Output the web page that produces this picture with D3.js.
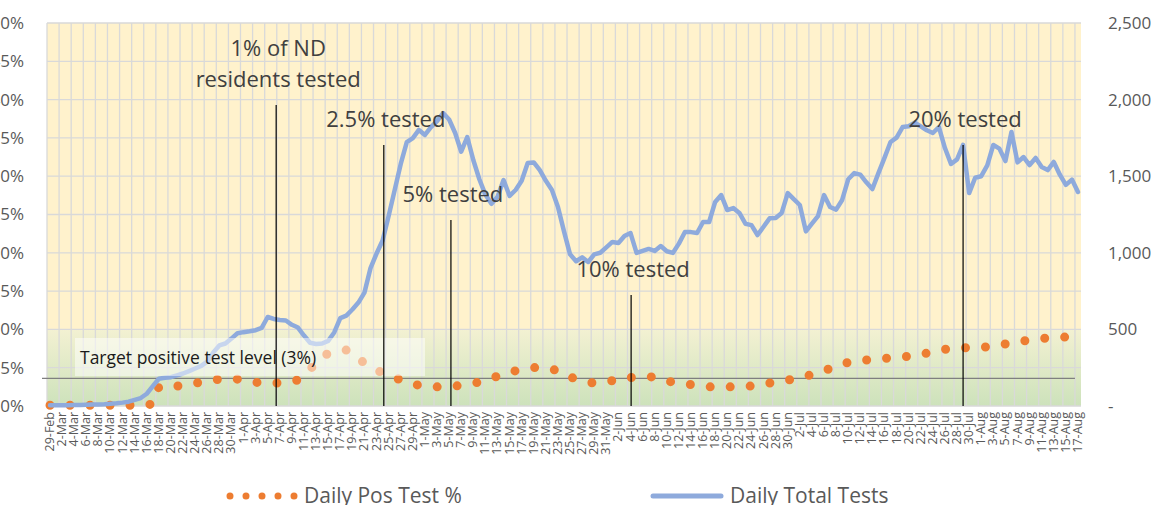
<!DOCTYPE html>
<html>
<head>
<meta charset="utf-8">
<script src="https://cdn.jsdelivr.net/npm/d3@7"></script>
<style>
	body { margin: 0; background: #fff; overflow: hidden; }
	svg { display: block; font-family: "Open Sans", "Noto Sans", sans-serif; }
</style>
</head>
<body>
<svg id="svgchart"></svg>
<script>
'use strict'

const chartWidth  = 1156,
      chartHeight = 505

const margin = {top: 23, right: 75, bottom: 99, left: 47}
const plotW = chartWidth - margin.left - margin.right,
      plotH = chartHeight - margin.top - margin.bottom

// one category per day, 29-Feb to 17-Aug 2020
const days = d3.timeDay.range(new Date(2020, 1, 29), new Date(2020, 7, 18))
const dayLabels = days.map(d3.timeFormat("%-d-%b"))

// daily positive test % (left axis)
const posRate = [
	0.1, 0.1, 0.1, 0.1, 0.1, 0.1, 0.1, 0.1, 0.1, 0.1,
	0.1, 0.1, 0.1, 0.1, 0.1, 0.1, 0.1, 0.3, 2.5, 2.5,
	2.6, 2.6, 2.7, 2.9, 3.0, 3.1, 3.3, 3.4, 3.5, 3.5,
	3.5, 3.5, 3.4, 3.2, 3.1, 3.0, 3.0, 3.0, 3.0, 3.1,
	3.2, 3.4, 4.0, 4.8, 5.6, 6.3, 6.9, 7.1, 7.2, 7.3,
	6.8, 6.2, 5.6, 5.1, 4.7, 4.3, 4.0, 3.7, 3.4, 3.1,
	2.9, 2.7, 2.6, 2.5, 2.5, 2.5, 2.6, 2.6, 2.7, 2.8,
	3.0, 3.1, 3.4, 3.6, 3.9, 4.1, 4.4, 4.6, 4.8, 4.9,
	5.0, 5.1, 5.0, 4.8, 4.6, 4.2, 3.8, 3.5, 3.3, 3.1,
	3.0, 3.1, 3.2, 3.3, 3.3, 3.5, 3.7, 3.8, 3.8, 3.8,
	3.8, 3.6, 3.3, 3.1, 3.0, 2.9, 2.8, 2.7, 2.6, 2.5,
	2.5, 2.5, 2.5, 2.5, 2.5, 2.6, 2.6, 2.7, 2.8, 3.0,
	3.1, 3.2, 3.4, 3.5, 3.7, 3.9, 4.1, 4.3, 4.6, 4.9,
	5.1, 5.4, 5.7, 5.9, 6.0, 6.0, 6.0, 6.1, 6.2, 6.3,
	6.3, 6.4, 6.5, 6.5, 6.7, 6.9, 7.0, 7.2, 7.4, 7.5,
	7.6, 7.6, 7.6, 7.6, 7.7, 7.7, 7.8, 7.9, 8.1, 8.2,
	8.4, 8.5, 8.6, 8.7, 8.8, 8.9, 9.0, 9.0, 9.0, 9.0,
	9.0
]

// daily total tests (right axis)
const totalTests = [
	5, 5, 5, 5, 6, 6, 8, 9, 10, 12,
	15, 18, 22, 28, 40, 52, 80, 130, 178, 184,
	188, 200, 212, 228, 245, 262, 290, 350, 395, 408,
	440, 475, 482, 488, 495, 510, 581, 568, 561, 558,
	530, 512, 460, 413, 405, 408, 425, 480, 574, 590,
	630, 675, 740, 900, 995, 1080, 1240, 1410, 1580, 1723,
	1749, 1802, 1769, 1820, 1860, 1912, 1870, 1782, 1660, 1756,
	1606, 1480, 1380, 1320, 1364, 1475, 1371, 1410, 1470, 1586,
	1590, 1540, 1470, 1410, 1299, 1140, 990, 945, 970, 940,
	990, 1000, 1035, 1071, 1064, 1110, 1129, 999, 1012, 1025,
	1012, 1044, 1010, 999, 1060, 1136, 1135, 1129, 1201, 1201,
	1332, 1377, 1279, 1292, 1260, 1190, 1181, 1116, 1170, 1225,
	1227, 1260, 1390, 1350, 1312, 1140, 1190, 1240, 1377, 1299,
	1282, 1345, 1480, 1520, 1510, 1460, 1416, 1520, 1620, 1723,
	1752, 1821, 1826, 1850, 1825, 1800, 1782, 1821, 1684, 1580,
	1610, 1704, 1390, 1490, 1500, 1570, 1704, 1680, 1599, 1789,
	1590, 1625, 1573, 1619, 1560, 1540, 1593, 1510, 1443, 1478,
	1397
]

const leftTicks  = [0, 5, 10, 15, 20, 25, 30, 35, 40, 45, 50]
const rightTicks = [0, 500, 1000, 1500, 2000, 2500]

// target level label; the drawn line sits a bit above 3% in the source
const targetLabel = "Target positive test level (3%)"
const targetLine  = 3.6

// vertical markers: day position, top of marker (in tests), label lines
const markerDays   = [37.9, 55.7, 66.8, 96.6, 151.5]
const markerTops   = [1965, 1704, 1214, 724, 1704]
const markerLabels = [["1% of ND", "residents tested"], ["2.5% tested"], ["5% tested"], ["10% tested"], ["20% tested"]]

const svg = d3.select("#svgchart")
	.attr("width", chartWidth)
	.attr("height", chartHeight)

const x = d3.scaleBand().domain(dayLabels).range([margin.left, margin.left + plotW])
const xDay = d3.scaleLinear().domain([0, days.length]).range([margin.left, margin.left + plotW])
const yLeft = d3.scaleLinear().domain([0, 50]).range([margin.top + plotH, margin.top])
const yRight = d3.scaleLinear().domain([0, 2500]).range([margin.top + plotH, margin.top])
const xc = i => x(dayLabels[i]) + x.bandwidth() / 2

// backgrounds
const defs = svg.append("defs")
const grad = defs.append("linearGradient").attr("id", "greenFade")
	.attr("x1", 0).attr("y1", 0).attr("x2", 0).attr("y2", 1)
grad.append("stop").attr("offset", "0%").attr("stop-color", "#f3f1d2")
grad.append("stop").attr("offset", "100%").attr("stop-color", "#cde2bb")

svg.append("rect")
	.attr("x", margin.left).attr("y", margin.top)
	.attr("width", plotW).attr("height", plotH)
	.attr("fill", "#fff2cc")
svg.append("rect")
	.attr("x", margin.left).attr("y", yRight(500))
	.attr("width", plotW).attr("height", yRight(0) - yRight(500))
	.attr("fill", "url(#greenFade)")

// gridlines
const grid = svg.append("g").attr("stroke", "#d9d9d9").attr("stroke-width", 1.3)
grid.selectAll("line.h")
	.data(d3.range(0, 2501, 250))
	.enter().append("line")
		.attr("x1", margin.left).attr("x2", margin.left + plotW)
		.attr("y1", d => yRight(d)).attr("y2", d => yRight(d))
grid.selectAll("line.v")
	.data(d3.range(0, days.length + 1, 2))
	.enter().append("line")
		.attr("x1", d => xDay(d)).attr("x2", d => xDay(d))
		.attr("y1", margin.top).attr("y2", margin.top + plotH)

// target line
svg.append("line")
	.attr("x1", margin.left - 5).attr("x2", xDay(days.length - 1))
	.attr("y1", yLeft(targetLine)).attr("y2", yLeft(targetLine))
	.attr("stroke", "#7f7f7f").attr("stroke-width", 1.3)

// positive % as a round-dotted line
const posLine = d3.line().x((d, i) => xc(i)).y(d => yLeft(d))
svg.append("path")
	.datum(posRate)
	.attr("d", posLine)
	.attr("fill", "none")
	.attr("stroke", "#ed7d31")
	.attr("stroke-width", 9)
	.attr("stroke-linecap", "round")
	.attr("stroke-dasharray", "0 20")

// total tests line
const testLine = d3.line().x((d, i) => xc(i)).y(d => yRight(d))
svg.append("path")
	.datum(totalTests)
	.attr("d", testLine)
	.attr("fill", "none")
	.attr("stroke", "#8eaadc")
	.attr("stroke-width", 4.5)
	.attr("stroke-linejoin", "round")
	.attr("stroke-linecap", "round")

// target label box, half transparent over the series
svg.append("rect")
	.attr("x", 75).attr("y", 338)
	.attr("width", 350).attr("height", 38)
	.attr("fill", "#fff").attr("fill-opacity", 0.5)
svg.append("text")
	.attr("x", 80).attr("y", 364)
	.attr("font-size", 17.5).attr("fill", "#1a1a1a")
	.text(targetLabel)

// vertical markers with labels
const markers = svg.append("g")
markerDays.forEach((day, k) => {
	const mx = xDay(day), top = yRight(markerTops[k])
	markers.append("line")
		.attr("x1", mx).attr("x2", mx)
		.attr("y1", top).attr("y2", margin.top + plotH)
		.attr("stroke", "#000").attr("stroke-width", 1.2)
	const lines = markerLabels[k]
	lines.forEach((t, j) => {
		markers.append("text")
			.attr("x", mx + 2)
			.attr("y", top - 18 - (lines.length - 1 - j) * 31)
			.attr("text-anchor", "middle")
			.attr("font-size", 22).attr("fill", "#404040")
			.text(t)
	})
})

// left axis labels (partly cut by the page edge, as in the source)
svg.append("g").selectAll("text")
	.data(leftTicks)
	.enter().append("text")
		.attr("x", 24).attr("y", d => yLeft(d))
		.attr("dy", "0.35em").attr("text-anchor", "end")
		.attr("font-size", 17).attr("fill", "#595959")
		.text(d => d + "%")

// right axis labels
svg.append("g").selectAll("text")
	.data(rightTicks)
	.enter().append("text")
		.attr("x", 1108).attr("y", d => yRight(d))
		.attr("dy", "0.35em")
		.attr("font-size", 17).attr("fill", "#595959")
		.text(d => d === 0 ? "-" : d3.format(",")(d))

// date labels every second day, rotated
svg.append("g").selectAll("text")
	.data(dayLabels.filter((d, i) => i % 2 === 0))
	.enter().append("text")
		.attr("transform", d => "translate(" + (x(d) + x.bandwidth() / 2 + 4) + "," + (margin.top + plotH + 6) + ") rotate(-90)")
		.attr("text-anchor", "end")
		.attr("font-size", 12.5).attr("fill", "#595959")
		.text(d => d)

// legend
const legend = svg.append("g")
legend.append("path")
	.attr("d", "M230,496H295")
	.attr("stroke", "#ed7d31").attr("stroke-width", 7)
	.attr("stroke-linecap", "round").attr("stroke-dasharray", "0 16")
legend.append("text")
	.attr("x", 304).attr("y", 503)
	.attr("font-size", 21).attr("fill", "#595959")
	.text("Daily Pos Test %")
legend.append("line")
	.attr("x1", 653).attr("x2", 721).attr("y1", 496).attr("y2", 496)
	.attr("stroke", "#8eaadc").attr("stroke-width", 5).attr("stroke-linecap", "round")
legend.append("text")
	.attr("x", 730).attr("y", 503)
	.attr("font-size", 21).attr("fill", "#595959")
	.text("Daily Total Tests")
</script>
</body>
</html>
